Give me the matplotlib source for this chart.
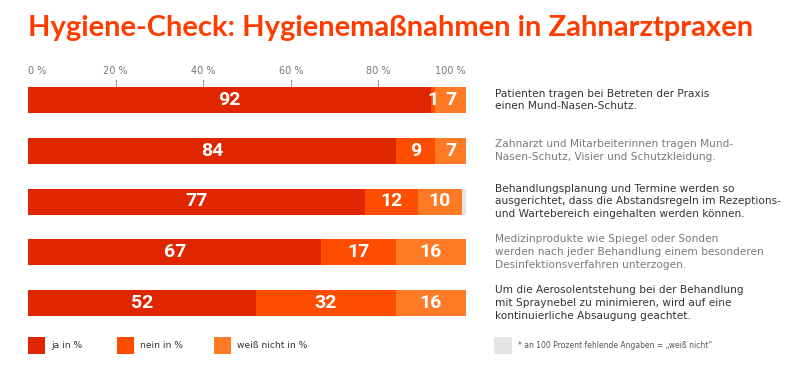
import matplotlib
matplotlib.use("Agg")
import matplotlib.pyplot as plt
from matplotlib import font_manager
from matplotlib.patches import Rectangle
import matplotlib.transforms as mtransforms

# data
statements = [
    "Patienten tragen bei Betreten der Praxis\neinen Mund-Nasen-Schutz.",
    "Zahnarzt und Mitarbeiterinnen tragen Mund-\nNasen-Schutz, Visier und Schutzkleidung.",
    "Behandlungsplanung und Termine werden so\nausgerichtet, dass die Abstandsregeln im Rezeptions-\nund Wartebereich eingehalten werden können.",
    "Medizinprodukte wie Spiegel oder Sonden\nwerden nach jeder Behandlung einem besonderen\nDesinfektionsverfahren unterzogen.",
    "Um die Aerosolentstehung bei der Behandlung\nmit Spraynebel zu minimieren, wird auf eine\nkontinuierliche Absaugung geachtet.",
]
ja = [92, 84, 77, 67, 52]
nein = [1, 9, 12, 17, 32]
weiss_nicht = [7, 7, 10, 16, 16]
fehlend = [0, 0, 1, 0, 0]
tick_vals = [0, 20, 40, 60, 80, 100]
tick_labels = ["0 %", "20 %", "40 %", "60 %", "80 %", "100 %"]
legend_labels = ["ja in %", "nein in %", "weiß nicht in %"]
footnote = "* an 100 Prozent fehlende Angaben = \u201eweiß nicht\u201c"
title = "Hygiene-Check: Hygienemaßnahmen in Zahnarztpraxen"

colors = ["#DF2600", "#FF4D00", "#FF7A24"]
gray = "#E4E4E4"
text_dark = ["#333333", "#7A7A7A", "#333333", "#7A7A7A", "#333333"]

installed = {f.name for f in font_manager.fontManager.ttflist}
def pick(*names):
    for n in names:
        if n in installed:
            return n
    return "DejaVu Sans"

num_font = pick("Liberation Sans Narrow", "DejaVu Sans Condensed", "Roboto", "Lato")
title_font = pick("Lato", "Roboto", "DejaVu Sans")
body_font = "DejaVu Sans"

W, H = 800, 374
fig = plt.figure(figsize=(8, 3.74), dpi=100)
fig.patch.set_facecolor("white")

# axes spanning 0..100 % -> x 28..466 px, rows centred at 100..303 px
row_px = 50.75
top_px = 100 - row_px / 2
bot_px = 303 + row_px / 2
ax = fig.add_axes([28 / W, 1 - bot_px / H, (466 - 28) / W, (bot_px - top_px) / H])
ax.set_xlim(0, 100)
ax.set_ylim(len(ja) - 0.5, -0.5)
ax.axis("off")

bh = 26 / row_px
y = list(range(len(ja)))
left = [0] * len(ja)
for vals, c in [(ja, colors[0]), (nein, colors[1]), (weiss_nicht, colors[2]), (fehlend, gray)]:
    ax.barh(y, vals, left=left, height=bh, color=c, edgecolor="none")
    if c != gray:
        for i, v in enumerate(vals):
            ax.text(left[i] + v / 2, i, str(v), ha="center", va="center",
                    color="white", fontsize=14, fontweight="bold", family=num_font)
    left = [l + v for l, v in zip(left, vals)]

# ticks on top
tick_y0 = -0.5 + (80 - top_px) / row_px
tick_y1 = -0.5 + (86 - top_px) / row_px
lab_y = -0.5 + (71 - top_px) / row_px
for v, lab in zip(tick_vals, tick_labels):
    ha = "left" if v == 0 else ("right" if v == 100 else "center")
    ax.text(v, lab_y, lab, ha=ha, va="center", fontsize=7, color="#777777",
            family=body_font, clip_on=False)
    if 0 < v < 100:
        ax.plot([v, v], [tick_y0, tick_y1], color="#999999", lw=0.8, clip_on=False)

# statements
trans = mtransforms.blended_transform_factory(fig.transFigure, ax.transData)
for i, s in enumerate(statements):
    ax.text(495 / W, i, s, transform=trans, ha="left", va="center", fontsize=7.6,
            color=text_dark[i], family=body_font, linespacing=1.35, clip_on=False)

# title, fitted to width
t = fig.text(28 / W, 1 - 36 / H, title, ha="left", va="baseline", fontsize=20,
             fontweight="bold", color="#FF3C00", family=title_font)
r = fig.canvas.get_renderer()
wpx = t.get_window_extent(r).width
t.set_fontsize(20 * (754 - 28) / wpx)

# legend
sq_w, sq_h = 17 / W, 17 / H
leg_y = 1 - 354 / H
for x0, c, lab in zip([28, 117, 214], colors, legend_labels):
    fig.add_artist(Rectangle((x0 / W, leg_y), sq_w, sq_h, transform=fig.transFigure,
                             facecolor=c, edgecolor="none"))
    fig.text((x0 + 23) / W, 1 - 345.5 / H, lab, ha="left", va="center", fontsize=6.6,
             color="#333333", family=body_font)
fig.add_artist(Rectangle((494 / W, leg_y), 18 / W, sq_h, transform=fig.transFigure,
                         facecolor=gray, edgecolor="none"))
fig.text(518 / W, 1 - 345.5 / H, footnote, ha="left", va="center", fontsize=5.5,
         color="#555555", family=body_font)

fig.savefig("out.png", dpi=100, facecolor="white")
